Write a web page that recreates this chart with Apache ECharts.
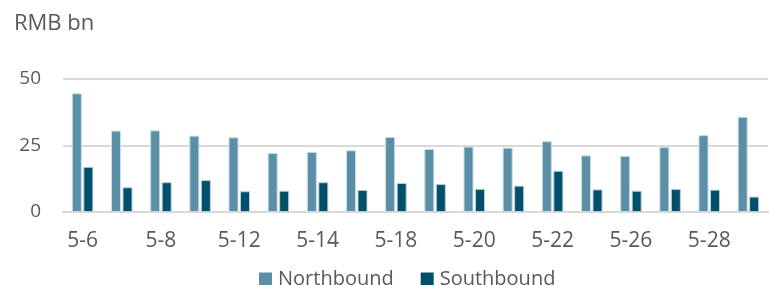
<!DOCTYPE html>
<html>
<head>
<meta charset="utf-8">
<script src="https://cdn.jsdelivr.net/npm/echarts@6/dist/echarts.min.js"></script>
<style>
  html, body { margin: 0; padding: 0; background: #fff; }
  #chart { width: 769px; height: 285px; }
</style>
</head>
<body>
<div id="chart"></div>
<script>
// trading days in May
const days = ['5-6', '5-7', '5-8', '5-11', '5-12', '5-13', '5-14', '5-15', '5-18',
  '5-19', '5-20', '5-21', '5-22', '5-25', '5-26', '5-27', '5-28', '5-29'];
const northbound = [44.6, 30.6, 30.7, 28.7, 28.1, 22.2, 22.6, 23.2, 28.2,
  23.7, 24.6, 24.2, 26.6, 21.3, 21.1, 24.4, 28.9, 35.8];
const southbound = [17.0, 9.3, 11.2, 12.0, 7.8, 8.0, 11.2, 8.3, 10.9,
  10.5, 8.7, 9.9, 15.5, 8.5, 8.0, 8.7, 8.4, 5.8];
const yTicks = [0, 25, 50];

const font = '"Open Sans", sans-serif';
const txt = '#595959';

const myChart = echarts.init(document.getElementById('chart'));

const option = {
  animation: false,
  title: {
    text: 'RMB bn',
    left: 9,
    top: 8,
    textStyle: { fontFamily: font, fontSize: 22, fontWeight: 'normal', color: txt }
  },
  legend: {
    data: ['Northbound', 'Southbound'],
    left: 254,
    top: 264,
    itemWidth: 13,
    itemHeight: 13,
    itemGap: 27,
    icon: 'rect',
    itemStyle: { borderWidth: 0 },
    textStyle: { fontFamily: font, fontSize: 20, color: txt, padding: [0, 0, 0, 1] }
  },
  grid: { left: 63, right: 1, top: 79, bottom: 73 },
  xAxis: {
    type: 'category',
    data: days,
    axisTick: { show: false },
    axisLine: { lineStyle: { color: '#d9d9d9', width: 2 } },
    axisLabel: {
      interval: 1,
      margin: 19,
      fontFamily: font,
      fontSize: 21,
      color: txt
    }
  },
  yAxis: {
    type: 'value',
    min: yTicks[0],
    max: yTicks[yTicks.length - 1],
    interval: 25,
    axisLine: { show: false },
    axisTick: { show: false },
    splitLine: { lineStyle: { color: '#d9d9d9', width: 2 } },
    axisLabel: { margin: 22, fontFamily: font, fontSize: 19, color: txt }
  },
  series: [
    {
      name: 'Northbound',
      type: 'bar',
      data: northbound,
      barWidth: 10,
      barGap: '15%',
      itemStyle: { color: '#5b8fa8', borderColor: '#c9dbe4', borderWidth: 1 }
    },
    {
      name: 'Southbound',
      type: 'bar',
      data: southbound,
      barWidth: 10,
      itemStyle: { color: '#00506b', borderColor: '#b8cdd6', borderWidth: 1 }
    }
  ]
};

myChart.setOption(option);
</script>
</body>
</html>
